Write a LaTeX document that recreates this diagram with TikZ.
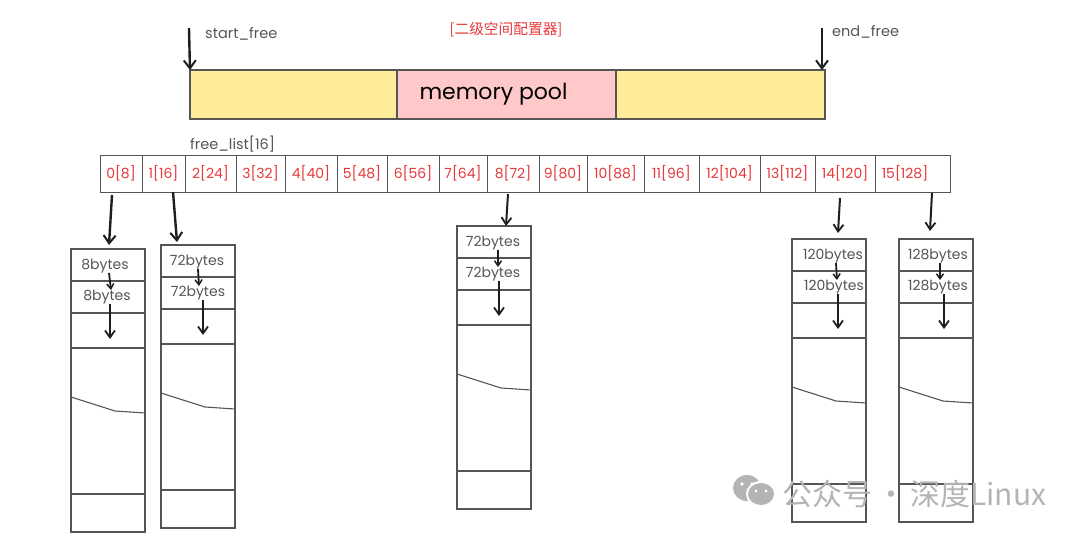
\documentclass[tikz,border=0pt]{standalone}
\usepackage{fontspec}
\usetikzlibrary{arrows.meta}
\setmainfont{Poppins}
\newfontfamily\cjk{Noto Sans CJK SC}
\definecolor{poolyellow}{HTML}{FFEC99}
\definecolor{poolpink}{HTML}{FFC9C9}
\definecolor{listred}{HTML}{E5383B}
\definecolor{edgegray}{HTML}{555555}
\definecolor{inkblack}{HTML}{1E1E1E}
\definecolor{markgray}{HTML}{B4B4B4}
\tikzset{
  poolbox/.style={draw=edgegray, line width=1.2pt, anchor=north west, minimum height=49pt, inner sep=0pt, outer sep=0pt},
  cellbox/.style={draw=edgegray, line width=1pt, anchor=north west, minimum height=37pt, inner sep=0pt, outer sep=0pt, text=listred, font=\fontsize{14}{14}\selectfont},
  chunkbox/.style={draw=edgegray, line width=1.2pt, anchor=north west, minimum width=74pt, minimum height=283pt, inner sep=0pt, outer sep=0pt},
  chunklabel/.style={inner sep=0pt, outer sep=0pt, minimum height=12pt, text=edgegray, font=\fontsize{14}{14}\selectfont},
  plaintag/.style={anchor=west, inner sep=0pt, text=edgegray, font=\fontsize{14.5}{15}\selectfont},
  divider/.style={draw=edgegray, line width=1.1pt},
  bigarrow/.style={draw=inkblack, line width=2.4pt, -{Straight Barb[length=8pt,width=12pt,line width=2pt]}},
  midarrow/.style={draw=inkblack, line width=2pt, -{Straight Barb[length=7pt,width=10pt,line width=1.8pt]}},
  tinyarrow/.style={draw=inkblack, line width=1.8pt, -{Straight Barb[length=5pt,width=7pt,line width=1.5pt]}},
}
\begin{document}
\begin{tikzpicture}[x=1pt, y=-1pt]
    \useasboundingbox (0, 0) rectangle (1080, 536);

    % Memory pool
    \node[poolbox, fill=poolyellow, minimum width=207pt] (poolleft) at (190, 70) {};
    \node[poolbox, fill=poolpink, minimum width=219pt, font=\fontsize{22}{22}\selectfont] (poolmid) at (397, 70) {memory pool\kern26pt};
    \node[poolbox, fill=poolyellow, minimum width=209pt] (poolright) at (616, 70) {};

    % Pool labels
    \node[plaintag] (starttag) at (205, 34) {start\_free};
    \node[plaintag] (endtag) at (832, 32) {end\_free};
    \node[plaintag] (listtag) at (190, 144) {free\_list[16]};
    \node[text=listred, inner sep=0pt, font=\cjk\fontsize{14.7}{15}\selectfont] (titletag) at (506, 30) {[二级空间配置器]};

    % Pool pointers
    \coordinate (starttail) at (189, 28);
    \coordinate (endtail) at (822, 28);
    \draw[bigarrow] (starttail) -- (poolleft.north west);
    \draw[bigarrow] (endtail) -- ([xshift=-3pt]poolright.north east);

    % Free list cells
    \foreach \i/\xa/\xb/\lab in {0/100/142/{0[8]}, 1/142/185/{1[16]}, 2/185/236/{2[24]}, 3/236/285/{3[32]},
        4/285/337/{4[40]}, 5/337/387/{5[48]}, 6/387/439/{6[56]}, 7/439/487/{7[64]},
        8/487/539/{8[72]}, 9/539/587/{9[80]}, 10/587/644/{10[88]}, 11/644/699/{11[96]},
        12/699/760/{12[104]}, 13/760/815/{13[112]}, 14/815/875/{14[120]}, 15/875/950/{15[128]\kern15pt}}
      \node[cellbox, minimum width=\xb pt-\xa pt] (cell\i) at (\xa, 155) {\lab};

    % Chunk lists
    \foreach \i/\x/\t/\lab/\dxa/\dxb/\sa/\sb in {0/71/249/8bytes/-3/-1/4/3, 1/161/245/72bytes/-1/0/1/5,
        2/457/226/72bytes/-1/-1/5/6, 3/792/239/120bytes/4/5/3/4, 4/899/239/128bytes/2/2/2/6} {
      \node[chunkbox] (chunk\i) at (\x, \t) {};
      \draw[divider] (\x, \t+32) -- (\x+74, \t+32);
      \draw[divider] (\x, \t+64) -- (\x+74, \t+64);
      \draw[divider] (\x, \t+99) -- (\x+74, \t+99);
      \draw[divider] (\x, \t+148) -- (\x+44, \t+162) -- (\x+74, \t+164);
      \draw[divider] (\x, \t+245) -- (\x+74, \t+245);
      \node[chunklabel] (upper\i) at (\x+37+\dxa, \t+17) {\lab};
      \node[chunklabel] (lower\i) at (\x+37+\dxb, \t+48) {\lab};
      \coordinate (tail\i) at ([xshift=\sb pt, yshift=-35pt]lower\i.south);
      \draw[tinyarrow] ([xshift=\sa pt]upper\i.south) -- ([xshift=\sa pt]lower\i.north);
      \draw[midarrow] ([xshift=\sb pt]lower\i.south) -- (tail\i);
    }

    % Cell to chunk arrows
    \draw[bigarrow] ([xshift=-9pt, yshift=-3pt]cell0.south) -- ([xshift=1pt, yshift=4pt]chunk0.north);
    \draw[bigarrow] ([xshift=9.5pt]cell1.south) -- ([xshift=-21pt, yshift=3pt]chunk1.north);
    \draw[midarrow] ([xshift=-5pt, yshift=-2pt]cell8.south) -- ([xshift=12pt]chunk2.north);
    \draw[midarrow] ([xshift=-5pt, yshift=-6pt]cell14.south) -- ([xshift=9pt, yshift=6pt]chunk3.north);
    \draw[midarrow] ([xshift=19.5pt, yshift=-1pt]cell15.south) -- ([xshift=-6pt, yshift=8pt]chunk4.north);

    % Watermark
    \fill[markgray] (747, 488) ellipse (14 and 13);
    \fill[white] (761, 494) ellipse (15 and 13);
    \fill[markgray] (761, 494) ellipse (13 and 11);
    \fill[white] (742, 484) circle (1.8) (752, 484) circle (1.8) (756, 491) circle (1.6) (766, 491) circle (1.6);
    \node[anchor=west, inner sep=0pt, text=markgray, font=\cjk\fontsize{30}{30}\selectfont] (marktext) at (782, 494) {公众号\kern4pt·\kern4pt深度Linux};
  \end{tikzpicture}
\end{document}
